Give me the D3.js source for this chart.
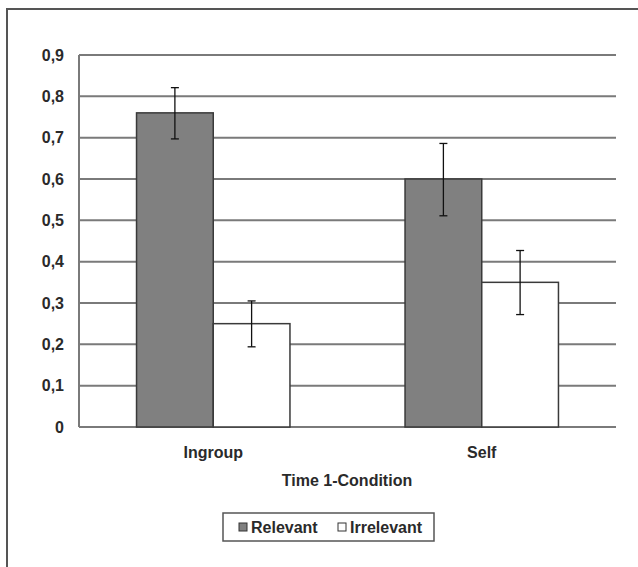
<!DOCTYPE html>
<meta charset="utf-8">
<title>Time 1-Condition</title>
<script src="https://cdn.jsdelivr.net/npm/d3@7/dist/d3.min.js"></script>
<style>
html, body {
    margin: 0;
    background: #fff;
}
svg {
    display: block;
    font-family: "Liberation Sans", Arial, sans-serif;
}
</style>
<body>
<script>
var categories = ["Ingroup", "Self"],
    series = ["Relevant", "Irrelevant"],
    relevant = [0.76, 0.60],
    irrelevant = [0.25, 0.35],
    relevantErr = [[0.697, 0.821], [0.511, 0.686]],
    irrelevantErr = [[0.194, 0.305], [0.272, 0.427]],
    yTicks = [0, 0.1, 0.2, 0.3, 0.4, 0.5, 0.6, 0.7, 0.8, 0.9];

var width = 638,
    height = 567,
    plotLeft = 79,
    plotRight = 616,
    plotTop = 55,
    plotBottom = 427;

var fills = { Relevant: "#808080", Irrelevant: "#ffffff" };

var svg = d3.select("body").append("svg")
    .attr("width", width)
    .attr("height", height);

// outer frame, runs off the right and bottom edges
svg.append("rect")
    .attr("x", 7).attr("y", 9)
    .attr("width", 700).attr("height", 700)
    .attr("fill", "none")
    .attr("stroke", "#555")
    .attr("stroke-width", 2);

// excel-style gap width 150%: two bars of w plus 1.5w gap per category
var x0 = d3.scaleBand().domain(categories).range([plotLeft, plotRight]),
    x1 = d3.scaleBand().domain(series).range([0, x0.bandwidth()]).paddingOuter(0.75),
    y = d3.scaleLinear().domain([0, 0.9]).range([plotBottom, plotTop]);

var bw = x1.bandwidth();
function barX(d) { return x0(d.cat) + x1(d.s); }

svg.append("g")
    .selectAll("line")
    .data(yTicks)
    .enter().append("line")
    .attr("x1", plotLeft).attr("x2", plotRight)
    .attr("y1", function(d) { return y(d); })
    .attr("y2", function(d) { return y(d); })
    .attr("stroke", "#7a7a7a")
    .attr("stroke-width", 2);

svg.append("line")
    .attr("x1", plotLeft).attr("x2", plotLeft)
    .attr("y1", plotTop).attr("y2", plotBottom)
    .attr("stroke", "#7a7a7a")
    .attr("stroke-width", 2);

var yAxis = svg.append("g")
    .attr("transform", "translate(" + (plotLeft - 15) + ",0)")
    .call(d3.axisLeft(y).tickValues(yTicks).tickSize(0).tickPadding(0)
        .tickFormat(function(d) { return d === 0 ? "0" : d3.format(".1f")(d).replace(".", ","); }));
yAxis.select(".domain").remove();
yAxis.selectAll("text")
    .attr("font-size", 16)
    .attr("font-weight", "bold")
    .attr("fill", "#2a2a2a")
    .attr("font-family", "Liberation Sans, Arial, sans-serif");

var rows = [];
categories.forEach(function(c, i) {
    rows.push({ cat: c, s: "Relevant", v: relevant[i], err: relevantErr[i] });
    rows.push({ cat: c, s: "Irrelevant", v: irrelevant[i], err: irrelevantErr[i] });
});

svg.append("g")
    .selectAll("rect")
    .data(rows)
    .enter().append("rect")
    .attr("x", barX)
    .attr("y", function(d) { return y(d.v); })
    .attr("width", bw)
    .attr("height", function(d) { return plotBottom - y(d.v); })
    .attr("fill", function(d) { return fills[d.s]; })
    .attr("stroke", "#3a3a3a")
    .attr("stroke-width", 1.5);

var eb = svg.append("g")
    .selectAll("g")
    .data(rows)
    .enter().append("g")
    .attr("stroke", "#111")
    .attr("stroke-width", 1.3);

eb.append("line")
    .attr("x1", function(d) { return barX(d) + bw / 2; })
    .attr("x2", function(d) { return barX(d) + bw / 2; })
    .attr("y1", function(d) { return y(d.err[0]); })
    .attr("y2", function(d) { return y(d.err[1]); });

[0, 1].forEach(function(k) {
    eb.append("line")
        .attr("x1", function(d) { return barX(d) + bw / 2 - 4; })
        .attr("x2", function(d) { return barX(d) + bw / 2 + 4; })
        .attr("y1", function(d) { return y(d.err[k]); })
        .attr("y2", function(d) { return y(d.err[k]); });
});

var xAxis = svg.append("g")
    .attr("transform", "translate(0," + (plotBottom + 31) + ")")
    .call(d3.axisBottom(x0).tickSize(0).tickPadding(0));
xAxis.select(".domain").remove();
xAxis.selectAll("text")
    .attr("dy", 0)
    .attr("font-size", 16)
    .attr("font-weight", "bold")
    .attr("fill", "#2a2a2a")
    .attr("font-family", "Liberation Sans, Arial, sans-serif");

svg.append("text")
    .attr("x", 347)
    .attr("y", 486)
    .attr("text-anchor", "middle")
    .attr("font-size", 16)
    .attr("font-weight", "bold")
    .attr("fill", "#2a2a2a")
    .text("Time 1-Condition");

// legend
var legend = svg.append("g");
legend.append("rect")
    .attr("x", 223).attr("y", 513)
    .attr("width", 211).attr("height", 28)
    .attr("fill", "#fff")
    .attr("stroke", "#555")
    .attr("stroke-width", 1.5);

var items = legend.selectAll("g")
    .data(series)
    .enter().append("g")
    .attr("transform", function(d, i) { return "translate(" + [239, 338][i] + ",0)"; });

items.append("rect")
    .attr("x", 0).attr("y", 523)
    .attr("width", 8).attr("height", 8)
    .attr("fill", function(d) { return fills[d]; })
    .attr("stroke", "#333")
    .attr("stroke-width", 1);

items.append("text")
    .attr("x", 12)
    .attr("y", 533)
    .attr("font-size", 16)
    .attr("font-weight", "bold")
    .attr("fill", "#2a2a2a")
    .text(function(d) { return d; });
</script>
